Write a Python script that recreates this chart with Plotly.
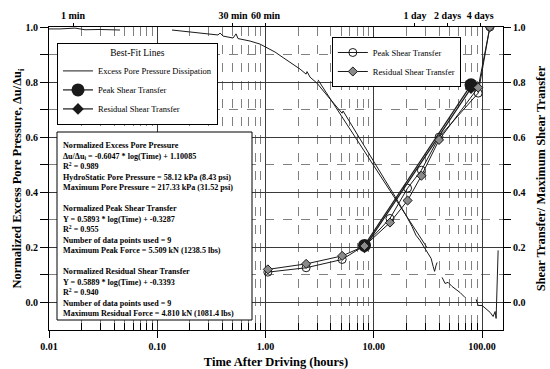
import plotly.graph_objects as go

# ---------------- data ----------------
# Excess pore pressure dissipation (measured), None = gap in record
pore_time = [0.0100, 0.01264, 0.01738, 0.0215, 0.0296, 0.0453, None,
             0.1368, 0.2008, 0.276, 0.364, 0.380, 0.405, 0.501, 0.534, 0.557, 0.719, 0.889,
             1.032, 1.224, 1.452, 1.758, 2.084, 2.368, 2.417, 2.575, 2.99, 3.55, 4.2, 5.09,
             5.2, 6.3, 7.46, 8.47, 10.27, 12.7, 15.7, 18.6, 20.3, 22.5, 24.5, 26.7, 29.1,
             31.7, 33.8, 35.3, 36.4, 37.6, 38.4, None,
             42.7, 45.5, 48.5, 52.8, 57.5, 62.6, 69.6, None,
             88.1, 91.9, 100.0, 108.9, 118.6, 126.4, 131.9, 134.7, 139.0, 140.6]
pore_value = [0.993, 0.993, 0.996, 0.990, 0.991, 0.989, None,
              0.989, 0.982, 0.975, 0.971, 0.978, 0.967, 0.960, 0.975, 0.958, 0.949, 0.938,
              0.925, 0.909, 0.889, 0.867, 0.847, 0.829, 0.838, 0.818, 0.796, 0.760, 0.724, 0.687,
              0.695, 0.640, 0.593, 0.556, 0.505, 0.444, 0.385, 0.338, 0.309, 0.276, 0.244, 0.225, 0.200,
              0.175, 0.160, 0.131, 0.113, 0.135, 0.145, None,
              0.091, 0.069, 0.073, 0.058, 0.047, 0.036, 0.018, None,
              0.011, -0.011, -0.011, -0.025, -0.036, -0.051, -0.033, -0.058, 0.080, 0.189]

# Best-fit line end points
pore_fit_time = [3.05, 31.0]
pore_fit_value = [0.808, 0.199]
peak_fit_time = [8.2, 79.0]
peak_fit_value = [0.207, 0.790]
resid_fit_time = [8.2, 79.0]
resid_fit_value = [0.200, 0.778]

# Shear transfer measurements
shear_time = [1.05, 2.37, 5.1, 8.2, 14.1, 20.5, 27.5, 40.0, 92.0, 118.0]
peak_shear = [0.110, 0.126, 0.156, 0.207, 0.305, 0.415, 0.480, 0.600, 0.760, 1.000]
resid_shear = [0.120, 0.140, 0.169, 0.205, 0.290, 0.370, 0.460, 0.590, 0.780, 1.000]

# Axis ticks
x_major = [0.01, 0.1, 1, 10, 100]
x_major_text = ["0.01", "0.10", "1.00", "10.00", "100.00"]
x_minor = [m * d for d in [0.01, 0.1, 1, 10, 100] for m in range(2, 10) if m * d < 156]
top_ticks = [1 / 60, 0.5, 1.0, 24.0, 48.0, 96.0]
top_text = ["1 min", "30 min", "60 min", "1 day", "2 days", "4 days"]
y_major = [0.0, 0.2, 0.4, 0.6, 0.8, 1.0]
y_major_text = ["0.0", "0.2", "0.4", "0.6", "0.8", "1.0"]
y_minor = [0.1, 0.3, 0.5, 0.7, 0.9]

info_lines = [
    "Normalized Excess Pore Pressure",
    "Δu/Δu<sub>i</sub> = -0.6047 * log(Time) + 1.10085",
    "R<sup>2</sup> = 0.989",
    "HydroStatic Pore Pressure = 58.12 kPa (8.43 psi)",
    "Maximum Pore Pressure = 217.33 kPa (31.52 psi)",
    "",
    "Normalized Peak Shear Transfer",
    "Y = 0.5893 * log(Time) + -0.3287",
    "R<sup>2</sup> = 0.955",
    "Number of data points used = 9",
    "Maximum Peak Force = 5.509 kN (1238.5 lbs)",
    "",
    "Normalized Residual Shear Transfer",
    "Y = 0.5889 * log(Time) + -0.3393",
    "R<sup>2</sup> = 0.940",
    "Number of data points used = 9",
    "Maximum Residual Force = 4.810 kN (1081.4 lbs)",
]

SERIF = "Liberation Serif"
INK = "#1a1a1a"

fig = go.Figure()

# measured pore pressure
fig.add_trace(go.Scatter(x=pore_time, y=pore_value, mode="lines",
                         line=dict(color=INK, width=1), showlegend=False,
                         connectgaps=False, hoverinfo="skip"))

# measured shear transfer (legend 2)
fig.add_trace(go.Scatter(x=shear_time, y=peak_shear, mode="lines+markers", yaxis="y2",
                         line=dict(color=INK, width=1),
                         marker=dict(symbol="circle-open", size=8, color=INK, line=dict(width=1)),
                         name="Peak Shear Transfer", legend="legend2"))
fig.add_trace(go.Scatter(x=shear_time, y=resid_shear, mode="lines+markers", yaxis="y2",
                         line=dict(color=INK, width=1),
                         marker=dict(symbol="diamond", size=7, color="#8a8a8a",
                                     line=dict(width=1, color=INK)),
                         name="Residual Shear Transfer", legend="legend2"))

# best-fit lines (legend 1)
fig.add_trace(go.Scatter(x=pore_fit_time, y=pore_fit_value, mode="lines",
                         line=dict(color=INK, width=1),
                         name="Excess Pore Pressure Dissipation",
                         xaxis="x2", legend="legend"))
fig.add_trace(go.Scatter(x=resid_fit_time, y=resid_fit_value, mode="lines+markers",
                         line=dict(color=INK, width=1.2),
                         marker=dict(symbol="diamond", size=9, color=INK),
                         name="Residual Shear Transfer", showlegend=False, legend="legend"))
fig.add_trace(go.Scatter(x=peak_fit_time, y=peak_fit_value, mode="lines+markers",
                         line=dict(color=INK, width=1.2),
                         marker=dict(symbol="circle", size=13, color=INK),
                         name="Peak Shear Transfer", legend="legend"))
fig.add_trace(go.Scatter(x=[None], y=[None], mode="lines+markers",
                         line=dict(color=INK, width=1.2),
                         marker=dict(symbol="diamond", size=9, color=INK),
                         name="Residual Shear Transfer", legend="legend"))

tickfont = dict(family=SERIF, size=10, color="black", weight="bold")
titlefont = dict(family=SERIF, size=12.5, color="black", weight="bold")

fig.update_layout(
    width=550, height=369,
    margin=dict(l=49, r=47, t=27, b=39),
    paper_bgcolor="white", plot_bgcolor="white",
    font=dict(family=SERIF, color="black"),
    xaxis=dict(type="log", range=[-2, 2.193], tickvals=x_major, ticktext=x_major_text,
               tickfont=tickfont, ticks="outside", ticklen=7, tickcolor="black",
               showgrid=True, gridcolor="#3a3a3a", gridwidth=1, automargin=False,
               showline=True, linecolor="black", linewidth=1, mirror=True,
               zeroline=False,
               minor=dict(tickvals=x_minor, ticks="inside", ticklen=7, tickcolor="black",
                          showgrid=True, gridcolor="#808080", griddash="dash", gridwidth=1),
               title=dict(text="Time After Driving (hours)", font=titlefont, standoff=7)),
    xaxis2=dict(type="log", range=[-2, 2.193], overlaying="x", side="top", anchor="y",
                tickvals=top_ticks, ticktext=top_text, tickfont=tickfont, automargin=False,
                ticks="outside", ticklen=3, tickcolor="black", showgrid=False,
                zeroline=False),
    yaxis=dict(range=[-0.1, 1.0], tickvals=y_major, ticktext=y_major_text,
               tickfont=tickfont, ticks="outside", ticklen=8, tickcolor="black",
               showgrid=True, gridcolor="#3a3a3a", gridwidth=1, zeroline=False,
               showline=True, linecolor="black", linewidth=1, mirror=True, automargin=False,
               minor=dict(tickvals=y_minor, ticks="outside", ticklen=8, tickcolor="black",
                          showgrid=True, gridcolor="#808080", griddash="dash", gridwidth=1),
               title=dict(text="Normalized Excess Pore Pressure, Δu/Δu<sub>i</sub>",
                          font=titlefont, standoff=0)),
    yaxis2=dict(range=[-0.1, 1.0], overlaying="y", side="right", anchor="x",
                tickvals=y_major, ticktext=y_major_text, tickfont=tickfont, automargin=False,
                ticks="outside", ticklen=7, tickcolor="black", showgrid=False, zeroline=False,
                minor=dict(tickvals=y_minor, ticks="outside", ticklen=7, tickcolor="black"),
                title=dict(text="Shear Transfer/ Maximum Shear Transfer",
                           font=titlefont, standoff=11)),
    legend=dict(x=0.0176, y=0.947, xanchor="left", yanchor="top",
                bgcolor="white", bordercolor="black", borderwidth=1,
                font=dict(family=SERIF, size=8.5, color="black"),
                title=dict(text="Best-Fit Lines", side="top center",
                           font=dict(family=SERIF, size=9.5, color="black")),
                traceorder="normal"),
    legend2=dict(x=0.623, y=0.967, xanchor="left", yanchor="top",
                 bgcolor="white", bordercolor="black", borderwidth=1,
                 font=dict(family=SERIF, size=8.5, color="black")),
    showlegend=True,
)

# information box
fig.add_shape(type="rect", xref="paper", yref="paper",
              x0=(57 - 49) / 454, x1=(252 - 49) / 454,
              y0=(330 - 320) / 303, y1=(330 - 132) / 303,
              fillcolor="white", line=dict(color="black", width=1), layer="above")
fig.add_annotation(xref="paper", yref="paper", x=(61 - 49) / 454, y=(330 - 139) / 303,
                   xanchor="left", yanchor="top", align="left", showarrow=False,
                   text="<br>".join("<b>%s</b>" % s if s else " " for s in info_lines),
                   font=dict(family=SERIF, size=8.1, color="black"))

fig.write_html("out.html", config={"displayModeBar": False},
               post_script="document.body.style.margin='0';document.body.style.overflow='hidden';")
